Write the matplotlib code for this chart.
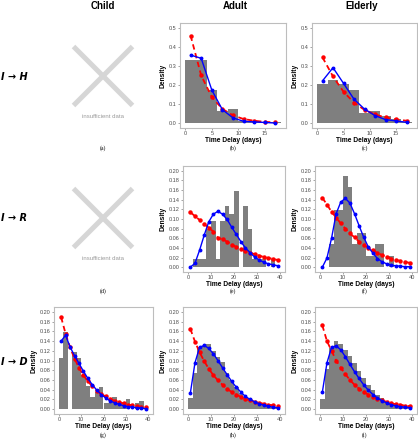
import numpy as np
import matplotlib
matplotlib.use("Agg")
import matplotlib.pyplot as plt

plt.rcParams['font.family'] = ['Liberation Sans', 'DejaVu Sans']

# ---- data ----
col_titles = ['Child', 'Adult', 'Elderly']
row_titles = ['I → H', 'I → R', 'I → D']

days_short = [1, 3, 5, 7, 9, 11, 13, 15, 17]
days_long = [1, 3, 5, 7, 9, 11, 13, 15, 17, 19, 21, 23, 25, 27, 29, 31, 33, 35, 37, 39]
bins_short = [0, 2, 4, 6, 8, 10, 12, 14, 16]
bins_long = [0, 2, 4, 6, 8, 10, 12, 14, 16, 18, 20, 22, 24, 26, 28, 30, 32, 34, 36, 38]

# (b) adult I->H
b_hist = [0.33, 0.33, 0.174, 0.066, 0.072, 0.012, 0.009, 0.006, 0.004]
b_fit1 = [0.357, 0.34, 0.174, 0.071, 0.028, 0.01, 0.007, 0.004, 0.001]
b_fit2 = [0.459, 0.25, 0.137, 0.075, 0.041, 0.022, 0.013, 0.007, 0.004]

# (c) elderly I->H
c_hist = [0.207, 0.224, 0.207, 0.176, 0.053, 0.062, 0.036, 0.022, 0.008]
c_fit1 = [0.222, 0.291, 0.209, 0.126, 0.074, 0.04, 0.019, 0.012, 0.005]
c_fit2 = [0.345, 0.245, 0.165, 0.108, 0.07, 0.046, 0.03, 0.02, 0.013]

# (e) adult I->R
e_hist = [0, 0.016, 0.016, 0.016, 0.079, 0.095, 0.016, 0.095, 0.127, 0.111,
          0.159, 0, 0.127, 0.079, 0.016, 0.016, 0.016, 0, 0.016, 0]
e_fit1 = [0.0, 0.008, 0.035, 0.066, 0.094, 0.11, 0.116, 0.11, 0.099, 0.083,
          0.068, 0.053, 0.04, 0.03, 0.021, 0.015, 0.01, 0.007, 0.005, 0.003]
e_fit2 = [0.114, 0.106, 0.098, 0.09, 0.082, 0.074, 0.061, 0.058, 0.053, 0.047,
          0.042, 0.038, 0.034, 0.03, 0.027, 0.024, 0.021, 0.019, 0.017, 0.015]

# (f) elderly I->R
f_hist = [0, 0, 0.048, 0.119, 0.119, 0.19, 0.167, 0.048, 0.071, 0.071,
          0.024, 0.024, 0.048, 0.048, 0, 0.024, 0, 0, 0, 0]
f_fit1 = [0.0, 0.019, 0.06, 0.111, 0.135, 0.143, 0.133, 0.111, 0.086, 0.062,
          0.042, 0.029, 0.018, 0.011, 0.007, 0.004, 0.003, 0.002, 0.001, 0.001]
f_fit2 = [0.144, 0.13, 0.115, 0.103, 0.091, 0.08, 0.07, 0.062, 0.053, 0.047,
          0.04, 0.035, 0.03, 0.025, 0.021, 0.018, 0.015, 0.013, 0.011, 0.009]

# (g) child I->D
g_hist = [0.106, 0.158, 0, 0.118, 0.106, 0.07, 0.047, 0.024, 0.035, 0.045,
          0.012, 0.012, 0.024, 0.012, 0.012, 0.021, 0, 0.012, 0.016, 0]
g_fit1 = [0.14, 0.152, 0.128, 0.11, 0.094, 0.078, 0.063, 0.05, 0.039, 0.03,
          0.023, 0.017, 0.013, 0.01, 0.007, 0.005, 0.004, 0.003, 0.002, 0.001]
g_fit2 = [0.189, 0.155, 0.127, 0.104, 0.085, 0.07, 0.057, 0.047, 0.038, 0.031,
          0.026, 0.021, 0.017, 0.014, 0.012, 0.009, 0.008, 0.006, 0.005, 0.004]

# (h) adult I->D
h_hist = [0.022, 0.075, 0.127, 0.13, 0.133, 0.12, 0.107, 0.096, 0.074, 0.06,
          0.046, 0.033, 0.025, 0.02, 0.015, 0.011, 0.008, 0.006, 0.004, 0.003]
h_fit1 = [0.033, 0.095, 0.127, 0.131, 0.125, 0.114, 0.1, 0.085, 0.071, 0.057,
          0.045, 0.035, 0.026, 0.02, 0.015, 0.011, 0.008, 0.006, 0.004, 0.003]
h_fit2 = [0.165, 0.139, 0.117, 0.099, 0.083, 0.07, 0.059, 0.05, 0.042, 0.035,
          0.03, 0.025, 0.021, 0.018, 0.015, 0.013, 0.011, 0.009, 0.008, 0.006]

# (i) elderly I->D
i_hist = [0.02, 0.083, 0.125, 0.141, 0.133, 0.122, 0.11, 0.095, 0.078, 0.063,
          0.05, 0.04, 0.03, 0.022, 0.016, 0.012, 0.008, 0.006, 0.004, 0.003]
i_fit1 = [0.035, 0.095, 0.127, 0.13, 0.122, 0.108, 0.092, 0.077, 0.063, 0.05,
          0.039, 0.03, 0.023, 0.017, 0.013, 0.009, 0.007, 0.005, 0.004, 0.003]
i_fit2 = [0.172, 0.14, 0.12, 0.1, 0.085, 0.072, 0.06, 0.05, 0.042, 0.035,
          0.03, 0.025, 0.021, 0.018, 0.015, 0.012, 0.01, 0.009, 0.007, 0.006]

W, H = 418, 440
fig = plt.figure(figsize=(W / 100, H / 100), dpi=100)


def px_axes(l, t, r, b):
    return fig.add_axes([l / W, 1 - b / H, (r - l) / W, (b - t) / H])


def panel(box, bins, hist, days, fit1, fit2, short):
    ax = px_axes(*box)
    ax.bar(bins, hist, width=2, align='edge', color='#7f7f7f', linewidth=0, zorder=1)
    ax.plot(days, fit2, color='red', ls=(0, (3, 2)), lw=1.3, marker='o', ms=2.2,
            zorder=2)
    ax.plot(days, fit1, color='blue', lw=1.0, marker='o', ms=1.8, zorder=3)
    if short:
        ax.set_xlim(-1.0, 19.0)
        ax.set_ylim(-0.025, 0.525)
        ax.set_xticks([0, 5, 10, 15])
        ax.set_yticks([0, 0.1, 0.2, 0.3, 0.4, 0.5])
        ax.set_yticklabels(['%.1f' % v for v in ax.get_yticks()])
    else:
        ax.set_xlim(-2.2, 42.2)
        ax.set_ylim(-0.01, 0.21)
        ax.set_xticks([0, 10, 20, 30, 40])
        ax.set_yticks(np.linspace(0, 0.2, 11))
        ax.set_yticklabels(['%.2f' % v for v in ax.get_yticks()])
    for s in ax.spines.values():
        s.set_color('#bdbdbd')
        s.set_linewidth(0.8)
    ax.tick_params(length=1.5, width=0.5, color='#7f7f7f', labelsize=4,
                   labelcolor='#4d4d4d', pad=1)
    ax.set_xlabel('Time Delay (days)', fontsize=4.8, fontweight='bold', labelpad=0.5)
    ax.set_ylabel('Density', fontsize=4.8, fontweight='bold', labelpad=1.5)
    return ax


def placeholder(cx, cy):
    half = 29.5
    fig.add_artist(plt.Line2D([(cx - half) / W, (cx + half) / W],
                              [1 - (cy - half) / H, 1 - (cy + half) / H],
                              color='#d6d6d6', lw=3.6, solid_capstyle='butt'))
    fig.add_artist(plt.Line2D([(cx - half) / W, (cx + half) / W],
                              [1 - (cy + half) / H, 1 - (cy - half) / H],
                              color='#d6d6d6', lw=3.6, solid_capstyle='butt'))
    fig.text(cx / W, 1 - (cy + 41) / H, 'insufficient data', fontsize=4.3,
             color='#9a9a9a', ha='center', va='center')


def caption(cx, cy, s):
    fig.text(cx / W, 1 - cy / H, s, fontsize=4.2, ha='center', va='center',
             family=['Liberation Serif', 'DejaVu Serif'])


# column headers and row labels
for cx, t in zip([103, 235, 362], col_titles):
    fig.text(cx / W, 1 - 6 / H, t, fontsize=7, fontweight='bold', ha='center',
             va='center')
for cy, t in zip([77, 218, 362], row_titles):
    fig.text(1 / W, 1 - cy / H, t, fontsize=7, fontweight='bold', style='italic',
             ha='left', va='center', family=['DejaVu Sans'])

# row 1
placeholder(103, 76)
panel((180, 23, 286, 128), bins_short, b_hist, days_short, b_fit1, b_fit2, True)
panel((312, 23, 417, 128), bins_short, c_hist, days_short, c_fit1, c_fit2, True)

# row 2
placeholder(103, 218)
panel((183, 166, 285, 272), bins_long, e_hist, days_long, e_fit1, e_fit2, False)
panel((315, 166, 417, 272), bins_long, f_hist, days_long, f_fit1, f_fit2, False)

# row 3
panel((54, 307, 153, 414), bins_long, g_hist, days_long, g_fit1, g_fit2, False)
panel((183, 307, 285, 414), bins_long, h_hist, days_long, h_fit1, h_fit2, False)
panel((315, 307, 417, 414), bins_long, i_hist, days_long, i_fit1, i_fit2, False)

for cx, cy, s in [(103, 148, '(a)'), (233, 148, '(b)'), (365, 148, '(c)'),
                  (103, 291, '(d)'), (233, 291, '(e)'), (365, 291, '(f)'),
                  (103, 435, '(g)'), (233, 435, '(h)'), (365, 435, '(i)')]:
    caption(cx, cy, s)

fig.savefig('out.png', dpi=100)
